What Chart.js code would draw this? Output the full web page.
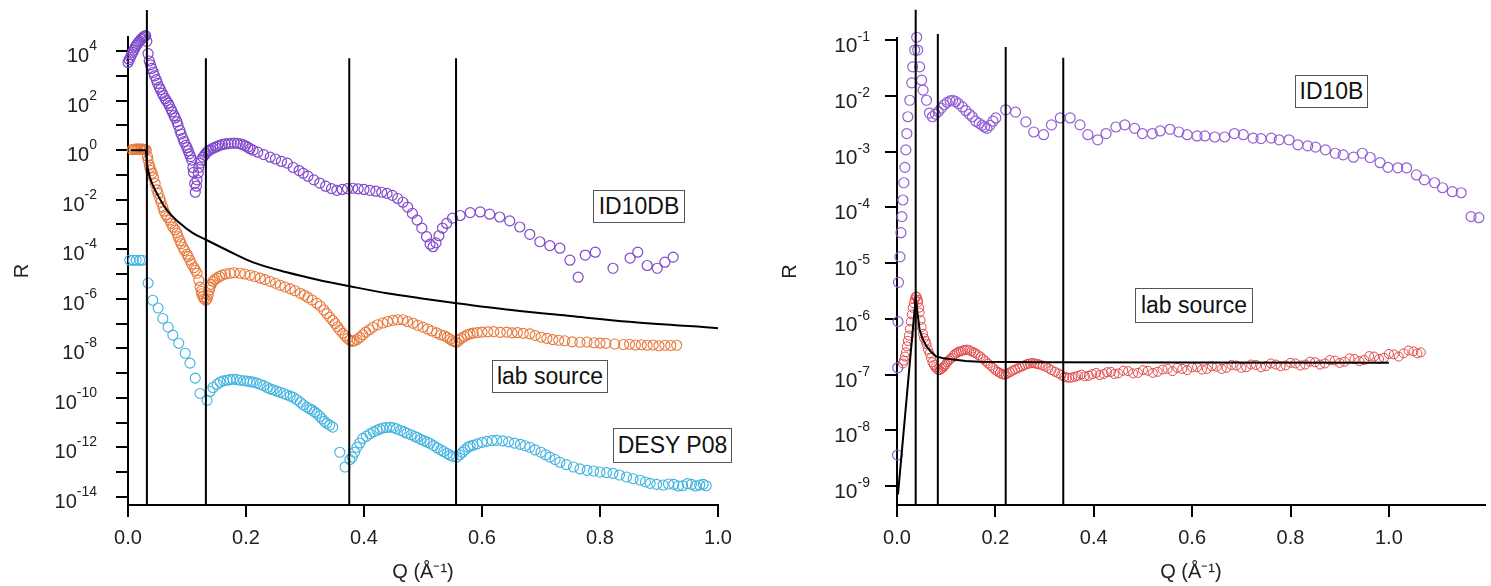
<!DOCTYPE html>
<html>
<head>
<meta charset="utf-8">
<script src="https://cdn.jsdelivr.net/npm/chart.js@4.4.1/dist/chart.umd.min.js"></script>
<style>
  body { margin: 0; background: #fff; }
  #wrap { position: relative; width: 1491px; height: 586px; overflow: hidden; }
  canvas { position: absolute; top: 0; }
  .tag {
    position: absolute; box-sizing: border-box;
    border: 1.5px solid #555; background: #fff;
    font-family: "Liberation Sans", Arial, sans-serif; font-size: 23px; color: #111;
    display: flex; align-items: center; justify-content: center; white-space: nowrap;
  }
</style>
</head>
<body>
<div id="wrap">
  <canvas id="leftChart" width="745" height="586" style="left:0"></canvas>
  <canvas id="rightChart" width="746" height="586" style="left:745px"></canvas>
  <div class="tag" style="left:593px;top:190px;width:92px;height:33px">ID10DB</div>
  <div class="tag" style="left:492px;top:360px;width:116px;height:33px">lab source</div>
  <div class="tag" style="left:613px;top:428px;width:119px;height:35px">DESY P08</div>
  <div class="tag" style="left:1295px;top:75px;width:73px;height:33px">ID10B</div>
  <div class="tag" style="left:1135px;top:288px;width:118px;height:35px">lab source</div>
</div>
<script>
// ---- left panel: [Q (1/A), R] ----
var id10db = [[0.000,3.5e3],[0.002,4.5e3],[0.004,5.6e3],[0.006,7.1e3],[0.008,8.9e3],[0.010,1.1e4],[0.012,1.4e4],[0.014,1.7e4],[0.016,2.0e4],[0.018,2.3e4],[0.020,2.6e4],[0.022,3.0e4],[0.024,3.3e4],[0.026,3.7e4],[0.028,4.0e4],[0.030,4.2e4],[0.032,2.5e4],[0.034,7.9e3],[0.036,4.0e3],[0.038,2.8e3],[0.040,2.0e3],[0.043,1.4e3],[0.045,1.0e3],[0.048,700],[0.050,500],[0.053,350],[0.055,280],[0.058,200],[0.060,160],[0.063,120],[0.065,100],[0.068,79],[0.070,63],[0.073,45],[0.075,35],[0.078,25],[0.080,20],[0.083,14],[0.085,10],[0.088,6.3],[0.090,4.5],[0.093,3.0],[0.095,2.2],[0.098,1.6],[0.100,1.26],[0.102,0.95],[0.104,0.71],[0.106,0.55],[0.108,0.4],[0.110,0.2],[0.111,0.126],[0.113,0.045],[0.114,0.02],[0.116,0.035],[0.117,0.063],[0.119,0.12],[0.120,0.2],[0.122,0.3],[0.124,0.4],[0.127,0.52],[0.130,0.63],[0.132,0.76],[0.135,0.89],[0.137,0.98],[0.140,1.05],[0.144,1.2],[0.148,1.32],[0.152,1.45],[0.156,1.58],[0.160,1.7],[0.165,1.78],[0.170,1.85],[0.175,1.9],[0.180,1.92],[0.185,1.9],[0.190,1.8],[0.195,1.66],[0.199,1.5],[0.203,1.32],[0.207,1.15],[0.212,1.0],[0.220,0.83],[0.230,0.66],[0.241,0.52],[0.250,0.44],[0.260,0.35],[0.270,0.3],[0.280,0.2],[0.290,0.15],[0.297,0.117],[0.305,0.089],[0.315,0.063],[0.325,0.047],[0.335,0.035],[0.345,0.028],[0.354,0.024],[0.363,0.026],[0.372,0.028],[0.381,0.029],[0.390,0.0275],[0.400,0.026],[0.410,0.024],[0.420,0.022],[0.430,0.02],[0.439,0.018],[0.448,0.015],[0.457,0.0112],[0.466,0.0079],[0.474,0.005],[0.482,0.0028],[0.490,0.0015],[0.498,7.1e-4],[0.506,3.2e-4],[0.512,1.6e-4],[0.517,1.26e-4],[0.522,1.8e-4],[0.527,3.5e-4],[0.533,7.1e-4],[0.540,1.1e-3],[0.550,1.8e-3],[0.563,2.3e-3],[0.580,3.0e-3],[0.597,3.2e-3],[0.613,2.6e-3],[0.630,2.0e-3],[0.647,1.4e-3],[0.664,7.9e-4],[0.681,4.0e-4],[0.698,2.0e-4],[0.715,1.4e-4],[0.732,1.1e-4],[0.749,3.6e-5],[0.763,7.4e-6],[0.775,5.8e-5],[0.792,7.6e-5],[0.822,1.7e-5],[0.851,4.4e-5],[0.864,7.6e-5],[0.880,2.2e-5],[0.897,1.7e-5],[0.910,3.0e-5],[0.924,4.8e-5]];

var labLeft = [[0.007,1.05],[0.010,1.07],[0.012,1.1],[0.015,1.1],[0.017,1.1],[0.020,1.12],[0.022,1.1],[0.025,1.1],[0.027,1.07],[0.029,1.05],[0.031,1.0],[0.033,0.56],[0.034,0.4],[0.036,0.25],[0.037,0.2],[0.039,0.15],[0.041,0.117],[0.043,0.079],[0.046,0.045],[0.049,0.025],[0.051,0.018],[0.054,0.0112],[0.056,0.0079],[0.059,0.005],[0.061,0.0035],[0.064,0.0025],[0.067,0.0019],[0.071,0.0015],[0.073,0.0011],[0.076,7.9e-4],[0.080,6.0e-4],[0.083,4.5e-4],[0.085,3.2e-4],[0.088,2.2e-4],[0.090,1.66e-4],[0.093,1.2e-4],[0.096,8.9e-5],[0.100,6.3e-5],[0.102,5.0e-5],[0.105,3.6e-5],[0.108,2.5e-5],[0.112,1.8e-5],[0.114,1.41e-5],[0.117,1.07e-5],[0.120,5.6e-6],[0.122,2.95e-6],[0.124,2.0e-6],[0.125,1.58e-6],[0.127,1.2e-6],[0.129,1.0e-6],[0.132,8.7e-7],[0.134,1.0e-6],[0.136,1.41e-6],[0.138,2.24e-6],[0.139,2.95e-6],[0.141,3.8e-6],[0.144,5.0e-6],[0.147,6.0e-6],[0.151,6.8e-6],[0.155,7.9e-6],[0.159,8.9e-6],[0.165,1.0e-5],[0.173,1.07e-5],[0.180,1.12e-5],[0.190,1.07e-5],[0.198,1.0e-5],[0.207,8.9e-6],[0.215,7.9e-6],[0.224,6.8e-6],[0.232,5.9e-6],[0.241,5.0e-6],[0.250,4.2e-6],[0.258,3.5e-6],[0.266,3.0e-6],[0.275,2.5e-6],[0.283,2.1e-6],[0.292,1.66e-6],[0.299,1.38e-6],[0.305,1.12e-6],[0.312,8.9e-7],[0.320,6.6e-7],[0.326,5.0e-7],[0.332,3.5e-7],[0.337,2.5e-7],[0.342,1.8e-7],[0.347,1.32e-7],[0.351,1.0e-7],[0.355,7.4e-8],[0.359,5.4e-8],[0.364,4.0e-8],[0.368,3.2e-8],[0.372,2.5e-8],[0.376,2.1e-8],[0.380,1.9e-8],[0.383,2.0e-8],[0.388,2.24e-8],[0.393,2.75e-8],[0.398,3.5e-8],[0.403,4.5e-8],[0.409,5.6e-8],[0.415,7.1e-8],[0.423,8.9e-8],[0.432,1.05e-7],[0.440,1.2e-7],[0.449,1.35e-7],[0.457,1.41e-7],[0.466,1.41e-7],[0.474,1.2e-7],[0.483,1.02e-7],[0.491,8.5e-8],[0.500,7.1e-8],[0.508,6.0e-8],[0.515,5.0e-8],[0.523,4.2e-8],[0.530,3.5e-8],[0.536,3.2e-8],[0.541,2.75e-8],[0.546,2.3e-8],[0.550,2.0e-8],[0.554,1.82e-8],[0.557,1.74e-8],[0.561,2.1e-8],[0.565,2.5e-8],[0.570,3.0e-8],[0.575,3.5e-8],[0.580,3.8e-8],[0.585,4.1e-8],[0.592,4.3e-8],[0.600,4.5e-8],[0.610,4.6e-8],[0.620,4.7e-8],[0.631,4.4e-8],[0.642,4.5e-8],[0.651,4.2e-8],[0.660,4.3e-8],[0.670,4.0e-8],[0.681,3.8e-8],[0.690,3.3e-8],[0.700,2.8e-8],[0.710,2.5e-8],[0.720,2.24e-8],[0.730,2.1e-8],[0.740,2.0e-8],[0.753,1.82e-8],[0.766,1.74e-8],[0.778,1.78e-8],[0.790,1.66e-8],[0.800,1.62e-8],[0.810,1.58e-8],[0.825,1.48e-8],[0.840,1.41e-8],[0.850,1.45e-8],[0.860,1.35e-8],[0.870,1.38e-8],[0.880,1.32e-8],[0.890,1.35e-8],[0.900,1.26e-8],[0.910,1.32e-8],[0.920,1.29e-8],[0.930,1.32e-8]];

var desy = [[0.003,3.6e-5],[0.009,3.6e-5],[0.014,3.6e-5],[0.020,3.6e-5],[0.024,3.6e-5],[0.034,4.3e-6],[0.042,8.7e-7],[0.051,4.2e-7],[0.059,1.6e-7],[0.068,7.1e-8],[0.076,3.4e-8],[0.086,1.6e-8],[0.097,6.3e-9],[0.105,2.5e-9],[0.114,6.2e-10],[0.122,1.5e-10],[0.134,7.9e-11],[0.139,1.8e-10],[0.144,2.6e-10],[0.151,3.5e-10],[0.156,4.3e-10],[0.162,4.8e-10],[0.168,5.1e-10],[0.173,5.4e-10],[0.178,5.6e-10],[0.184,5.5e-10],[0.190,5.1e-10],[0.196,4.9e-10],[0.202,4.7e-10],[0.207,4.5e-10],[0.212,4.3e-10],[0.218,3.9e-10],[0.224,3.5e-10],[0.230,3.1e-10],[0.236,2.6e-10],[0.241,2.3e-10],[0.246,2.1e-10],[0.252,1.86e-10],[0.258,1.66e-10],[0.264,1.48e-10],[0.269,1.32e-10],[0.275,1.17e-10],[0.280,1.05e-10],[0.286,8.3e-11],[0.292,6.6e-11],[0.297,5.2e-11],[0.303,4.2e-11],[0.308,3.6e-11],[0.312,3.2e-11],[0.316,2.7e-11],[0.320,2.3e-11],[0.325,1.8e-11],[0.329,1.4e-11],[0.333,1.12e-11],[0.337,9.3e-12],[0.342,7.9e-12],[0.347,6.5e-12],[0.359,6.3e-13],[0.368,1.6e-13],[0.376,3.2e-13],[0.380,4.0e-13],[0.384,6.3e-13],[0.388,1.0e-12],[0.393,1.5e-12],[0.398,2.3e-12],[0.404,2.8e-12],[0.410,3.5e-12],[0.416,4.2e-12],[0.422,4.9e-12],[0.427,5.5e-12],[0.432,6.0e-12],[0.438,6.3e-12],[0.444,6.5e-12],[0.450,6.2e-12],[0.455,5.6e-12],[0.462,4.8e-12],[0.468,4.2e-12],[0.473,3.7e-12],[0.480,3.2e-12],[0.486,2.75e-12],[0.490,2.5e-12],[0.496,2.1e-12],[0.502,1.82e-12],[0.507,1.62e-12],[0.512,1.45e-12],[0.518,1.17e-12],[0.524,9.5e-13],[0.530,7.9e-13],[0.535,6.8e-13],[0.541,5.6e-13],[0.546,4.8e-13],[0.551,4.3e-13],[0.557,4.0e-13],[0.562,5.0e-13],[0.567,6.3e-13],[0.571,7.9e-13],[0.576,1.0e-12],[0.580,1.12e-12],[0.585,1.2e-12],[0.592,1.38e-12],[0.600,1.58e-12],[0.608,1.74e-12],[0.617,1.86e-12],[0.625,1.9e-12],[0.635,1.82e-12],[0.645,1.66e-12],[0.655,1.48e-12],[0.665,1.32e-12],[0.673,1.15e-12],[0.681,1.0e-12],[0.690,7.9e-13],[0.700,6.3e-13],[0.708,5.0e-13],[0.715,4.0e-13],[0.724,3.2e-13],[0.732,2.5e-13],[0.743,2.0e-13],[0.755,1.6e-13],[0.766,1.35e-13],[0.778,1.17e-13],[0.789,1.1e-13],[0.800,1.0e-13],[0.811,9.5e-14],[0.822,8.9e-14],[0.833,7.6e-14],[0.845,6.3e-14],[0.856,5.4e-14],[0.868,4.7e-14],[0.877,4.0e-14],[0.885,3.5e-14],[0.896,3.2e-14],[0.907,3.0e-14],[0.916,3.3e-14],[0.925,3.2e-14],[0.933,2.75e-14],[0.940,2.8e-14],[0.948,3.4e-14],[0.955,3.2e-14],[0.962,2.75e-14],[0.969,3.0e-14],[0.975,3.2e-14],[0.980,2.8e-14]];

var fitLeftQ = [0.005,0.030,0.032,0.037,0.049,0.066,0.088,0.110,0.134,0.168,0.212,0.269,0.325,0.376,0.439,0.495,0.557,0.650,0.750,0.850,1.000];
var fitLeftR = [1.0,1.0,0.3,0.081,0.018,3.8e-3,1.12e-3,4.5e-4,2.3e-4,9.1e-5,2.95e-5,1.17e-5,5.6e-6,3.2e-6,1.66e-6,1.05e-6,6.6e-7,3.5e-7,2.0e-7,1.17e-7,6.5e-8];

var leftEdgesQ = [0.032, 0.132, 0.375, 0.556];
var leftEdgesTop = [4.6e5, 5.2e3, 5.2e3, 5.2e3];

// ---- right panel ----
var id10b = [[0.001,3.6e-9],[0.0015,1.32e-7],[0.002,8.9e-7],[0.003,4.5e-6],[0.006,1.29e-5],[0.008,3.5e-5],[0.010,6.8e-5],[0.012,1.35e-4],[0.014,2.75e-4],[0.016,5.2e-4],[0.018,1.07e-3],[0.020,2.1e-3],[0.022,4.2e-3],[0.026,8.3e-3],[0.030,0.017],[0.032,0.033],[0.036,0.066],[0.040,0.112],[0.042,0.066],[0.046,0.033],[0.050,0.019],[0.053,0.0126],[0.060,8.3e-3],[0.066,4.9e-3],[0.072,4.2e-3],[0.078,4.7e-3],[0.084,5.2e-3],[0.090,6.0e-3],[0.096,6.9e-3],[0.102,7.6e-3],[0.108,8.1e-3],[0.113,8.3e-3],[0.119,7.9e-3],[0.125,7.2e-3],[0.133,6.3e-3],[0.140,5.4e-3],[0.147,4.7e-3],[0.153,4.2e-3],[0.160,3.5e-3],[0.167,3.2e-3],[0.173,2.95e-3],[0.178,2.75e-3],[0.183,2.6e-3],[0.189,2.95e-3],[0.195,3.5e-3],[0.201,4.0e-3],[0.221,5.6e-3],[0.241,5.1e-3],[0.262,3.4e-3],[0.278,2.24e-3],[0.298,2.0e-3],[0.314,3.0e-3],[0.332,4.0e-3],[0.352,4.0e-3],[0.372,3.0e-3],[0.388,2.0e-3],[0.408,1.62e-3],[0.425,2.1e-3],[0.445,2.75e-3],[0.463,3.0e-3],[0.483,2.6e-3],[0.499,2.1e-3],[0.519,2.1e-3],[0.535,2.34e-3],[0.555,2.5e-3],[0.573,2.24e-3],[0.590,2.0e-3],[0.610,1.9e-3],[0.626,1.9e-3],[0.646,1.82e-3],[0.666,1.82e-3],[0.686,2.1e-3],[0.704,2.0e-3],[0.724,1.74e-3],[0.740,1.7e-3],[0.761,1.74e-3],[0.777,1.62e-3],[0.797,1.62e-3],[0.815,1.32e-3],[0.835,1.26e-3],[0.851,1.2e-3],[0.871,1.07e-3],[0.891,9.3e-4],[0.907,8.7e-4],[0.928,7.9e-4],[0.946,9.3e-4],[0.962,7.8e-4],[0.982,6.3e-4],[0.998,5.2e-4],[1.018,5.1e-4],[1.036,5.1e-4],[1.056,3.8e-4],[1.072,3.1e-4],[1.093,2.75e-4],[1.109,2.24e-4],[1.129,1.9e-4],[1.147,1.82e-4],[1.167,6.8e-5],[1.183,6.5e-5]];

var labRight = [[0.012,1.58e-7],[0.014,1.78e-7],[0.016,2.1e-7],[0.018,2.5e-7],[0.020,3.2e-7],[0.022,4.0e-7],[0.024,5.0e-7],[0.026,6.6e-7],[0.028,8.9e-7],[0.030,1.2e-6],[0.032,1.58e-6],[0.034,1.9e-6],[0.036,2.24e-6],[0.038,2.5e-6],[0.040,2.5e-6],[0.042,2.2e-6],[0.043,2.0e-6],[0.045,1.58e-6],[0.046,1.29e-6],[0.048,9.5e-7],[0.050,7.1e-7],[0.053,5.4e-7],[0.055,4.5e-7],[0.058,4.0e-7],[0.060,3.5e-7],[0.063,2.8e-7],[0.066,2.4e-7],[0.069,2.0e-7],[0.072,1.66e-7],[0.075,1.48e-7],[0.078,1.35e-7],[0.081,1.26e-7],[0.084,1.2e-7],[0.087,1.2e-7],[0.090,1.26e-7],[0.093,1.32e-7],[0.096,1.41e-7],[0.099,1.51e-7],[0.102,1.66e-7],[0.105,1.78e-7],[0.108,1.9e-7],[0.112,2.0e-7],[0.115,2.2e-7],[0.118,2.34e-7],[0.122,2.45e-7],[0.126,2.6e-7],[0.130,2.6e-7],[0.134,2.7e-7],[0.138,2.75e-7],[0.142,2.8e-7],[0.147,2.75e-7],[0.151,2.6e-7],[0.156,2.5e-7],[0.160,2.4e-7],[0.165,2.24e-7],[0.170,2.1e-7],[0.175,1.9e-7],[0.180,1.74e-7],[0.185,1.58e-7],[0.190,1.45e-7],[0.195,1.32e-7],[0.200,1.2e-7],[0.205,1.12e-7],[0.209,1.07e-7],[0.213,1.02e-7],[0.217,1.0e-7],[0.221,1.0e-7],[0.225,1.05e-7],[0.230,1.1e-7],[0.235,1.17e-7],[0.240,1.23e-7],[0.245,1.29e-7],[0.250,1.35e-7],[0.255,1.41e-7],[0.260,1.48e-7],[0.265,1.55e-7],[0.270,1.58e-7],[0.275,1.62e-7],[0.280,1.58e-7],[0.285,1.55e-7],[0.290,1.51e-7],[0.296,1.45e-7],[0.302,1.38e-7],[0.308,1.29e-7],[0.314,1.2e-7],[0.321,1.12e-7],[0.328,1.05e-7],[0.334,9.8e-8],[0.340,9.1e-8],[0.345,8.9e-8],[0.350,8.7e-8],[0.356,8.9e-8],[0.362,9.1e-8],[0.368,9.5e-8],[0.375,1.0e-7],[0.382,9.3e-8],[0.390,9.5e-8],[0.397,1.02e-7],[0.405,1.07e-7],[0.412,9.8e-8],[0.420,1.02e-7],[0.427,1.1e-7],[0.435,1.12e-7],[0.442,1.02e-7],[0.450,1.05e-7],[0.460,1.17e-7],[0.470,1.15e-7],[0.480,1.05e-7],[0.490,1.07e-7],[0.500,1.2e-7],[0.510,1.17e-7],[0.520,1.07e-7],[0.530,1.12e-7],[0.540,1.23e-7],[0.550,1.26e-7],[0.560,1.15e-7],[0.570,1.32e-7],[0.580,1.26e-7],[0.590,1.2e-7],[0.600,1.35e-7],[0.610,1.35e-7],[0.620,1.23e-7],[0.630,1.26e-7],[0.640,1.41e-7],[0.650,1.38e-7],[0.660,1.26e-7],[0.670,1.32e-7],[0.680,1.48e-7],[0.690,1.45e-7],[0.700,1.32e-7],[0.710,1.35e-7],[0.720,1.51e-7],[0.730,1.48e-7],[0.740,1.35e-7],[0.750,1.41e-7],[0.760,1.58e-7],[0.770,1.51e-7],[0.780,1.41e-7],[0.790,1.45e-7],[0.800,1.62e-7],[0.810,1.58e-7],[0.820,1.45e-7],[0.830,1.51e-7],[0.840,1.7e-7],[0.850,1.66e-7],[0.860,1.51e-7],[0.870,1.58e-7],[0.880,1.82e-7],[0.890,1.78e-7],[0.900,1.62e-7],[0.910,1.7e-7],[0.920,1.95e-7],[0.930,1.9e-7],[0.940,1.74e-7],[0.950,1.82e-7],[0.960,2.14e-7],[0.970,2.1e-7],[0.980,1.9e-7],[0.990,2.0e-7],[1.000,2.34e-7],[1.010,2.3e-7],[1.020,2.1e-7],[1.030,2.4e-7],[1.040,2.7e-7],[1.050,2.6e-7],[1.058,2.4e-7],[1.065,2.5e-7]];

var fitRightQ = [0.002,0.038,0.042,0.046,0.053,0.060,0.070,0.080,0.095,0.113,0.140,0.167,0.300,0.600,1.000];
var fitRightR = [7.1e-10,2.4e-6,1.2e-6,6.3e-7,4.2e-7,3.2e-7,2.5e-7,2.1e-7,1.95e-7,1.86e-7,1.75e-7,1.7e-7,1.66e-7,1.64e-7,1.62e-7];

var rightEdgesQ = [0.038, 0.083, 0.221, 0.338];
var rightEdgesTop = [0.35, 0.128, 0.075, 0.048];

// ---- ticks ----
var xTicks = [0, 0.2, 0.4, 0.6, 0.8, 1.0];
var leftYTickExp = [-14,-13,-12,-11,-10,-9,-8,-7,-6,-5,-4,-3,-2,-1,0,1,2,3,4];
var rightYTickExp = [-9,-8,-7,-6,-5,-4,-3,-2,-1];

var FONT = '"Liberation Sans", Arial, sans-serif';
var INK = '#222';

// y labels as "10" with a raised exponent, placed on the scale's own ticks
var powerLabels = {
    id: 'powerLabels',
    afterDraw: function (chart, args, o) {
        var s = chart.scales.y, c = chart.ctx;
        var xr = s.right - 12 - o.pad;
        c.save();
        c.fillStyle = INK;
        c.textAlign = 'right';
        c.textBaseline = 'alphabetic';
        s.ticks.forEach(function (t) {
            var e = Math.round(Math.log10(t.value));
            if (e % o.every !== 0) return;
            var y = s.getPixelForValue(t.value);
            var sup = String(e);
            c.font = o.supSize + 'px ' + FONT;
            var w = c.measureText(sup).width;
            c.fillText(sup, xr, y + o.supDy);
            c.font = o.size + 'px ' + FONT;
            c.fillText('10', xr - w, y + o.baseDy);
        });
        c.restore();
    }
};

function pairs(q, r) {
    return q.map(function (x, i) { return {x: x, y: r[i]}; });
}

function points(list) {
    return list.map(function (p) { return {x: p[0], y: p[1]}; });
}

function circles(list, color, radius, width) {
    return {
        data: points(list), showLine: false, clip: false,
        pointStyle: 'circle', pointRadius: radius, pointHoverRadius: radius,
        pointBorderColor: color, pointBackgroundColor: 'rgba(0,0,0,0)', pointBorderWidth: width
    };
}

function curve(q, r, tension) {
    return {
        data: pairs(q, r), showLine: true, clip: false, pointRadius: 0,
        borderColor: '#000', borderWidth: 2, tension: tension,
        cubicInterpolationMode: tension ? 'monotone' : 'default'
    };
}

function edges(qs, tops, yMin) {
    return qs.map(function (q, i) {
        return {
            data: [{x: q, y: tops[i]}, {x: q, y: yMin}], showLine: true, clip: false,
            pointRadius: 0, borderColor: '#000', borderWidth: 2
        };
    });
}

function axisBase() {
    return {
        border: {display: true, color: '#000', width: 2},
        grid: {display: true, drawOnChartArea: false, drawTicks: true, tickLength: 12, color: '#000', lineWidth: 2}
    };
}

function makePanel(id, p) {
    var ctx = document.getElementById(id);
    if (!ctx) return;
    var xAxis = axisBase();
    xAxis.type = 'linear';
    xAxis.min = 0;
    xAxis.max = p.xMax;
    xAxis.afterBuildTicks = function (s) { s.ticks = xTicks.map(function (v) { return {value: v}; }); };
    xAxis.afterFit = function (s) { s.height = 81; };
    xAxis.ticks = {autoSkip: false, maxRotation: 0, padding: 9, color: INK, font: {family: FONT, size: 20},
        callback: function (v) { return Number(v).toFixed(1); }};
    xAxis.title = {display: true, text: 'Q (\u00c5\u207b\u00b9)', color: INK, font: {family: FONT, size: 20}, padding: {top: 0, bottom: 2}};

    var yAxis = axisBase();
    yAxis.type = 'logarithmic';
    yAxis.min = p.yMin;
    yAxis.max = p.yMax;
    yAxis.afterBuildTicks = function (s) { s.ticks = p.yExp.map(function (e) { return {value: Math.pow(10, e)}; }); };
    yAxis.afterFit = function (s) { s.width = p.yWidth; };
    yAxis.ticks = {display: false, autoSkip: false};
    yAxis.title = {display: true, text: 'R', color: INK, font: {family: FONT, size: 20}, padding: {top: p.rPad, bottom: 0}};

    new Chart(ctx, {
        type: 'scatter',
        data: {datasets: p.datasets},
        plugins: [powerLabels],
        options: {
            responsive: false,
            animation: false,
            devicePixelRatio: 1,
            layout: {padding: {top: p.top, right: p.right, left: 0, bottom: 0}},
            plugins: {legend: {display: false}, tooltip: {enabled: false}, powerLabels: p.labels},
            scales: {x: xAxis, y: yAxis}
        }
    });
}

try {
    var leftYMin = 4.68e-15, leftYMax = 3.72e4;
    makePanel('leftChart', {
        xMax: 1.0, yMin: leftYMin, yMax: leftYMax, yExp: leftYTickExp,
        yWidth: 128, rPad: 10, top: 37, right: 27,
        labels: {every: 2, pad: 19, size: 20, supSize: 14, baseDy: 11, supDy: -1},
        datasets: edges(leftEdgesQ, leftEdgesTop, leftYMin).concat([
            curve(fitLeftQ, fitLeftR, 0.4),
            circles(id10db, '#8048cc', 5, 1.2),
            circles(labLeft, '#e8773a', 5, 1.1),
            circles(desy, '#3fb2e0', 5, 1.1)
        ])
    });
} catch (error) {
    console.log(error);
}

try {
    var rightYMin = 4.57e-10, rightYMax = 0.1086;
    makePanel('rightChart', {
        xMax: 1.195, yMin: rightYMin, yMax: rightYMax, yExp: rightYTickExp,
        yWidth: 152, rPad: 33, top: 38, right: 0,
        labels: {every: 1, pad: 15, size: 21, supSize: 14, baseDy: 12, supDy: 1},
        datasets: edges(rightEdgesQ, rightEdgesTop, rightYMin).concat([
            curve(fitRightQ, fitRightR, 0),
            circles(id10b, '#9460d4', 5, 1.2),
            circles(labRight, '#e04848', 4.5, 1)
        ])
    });
} catch (error) {
    console.log(error);
}
</script>
</body>
</html>
